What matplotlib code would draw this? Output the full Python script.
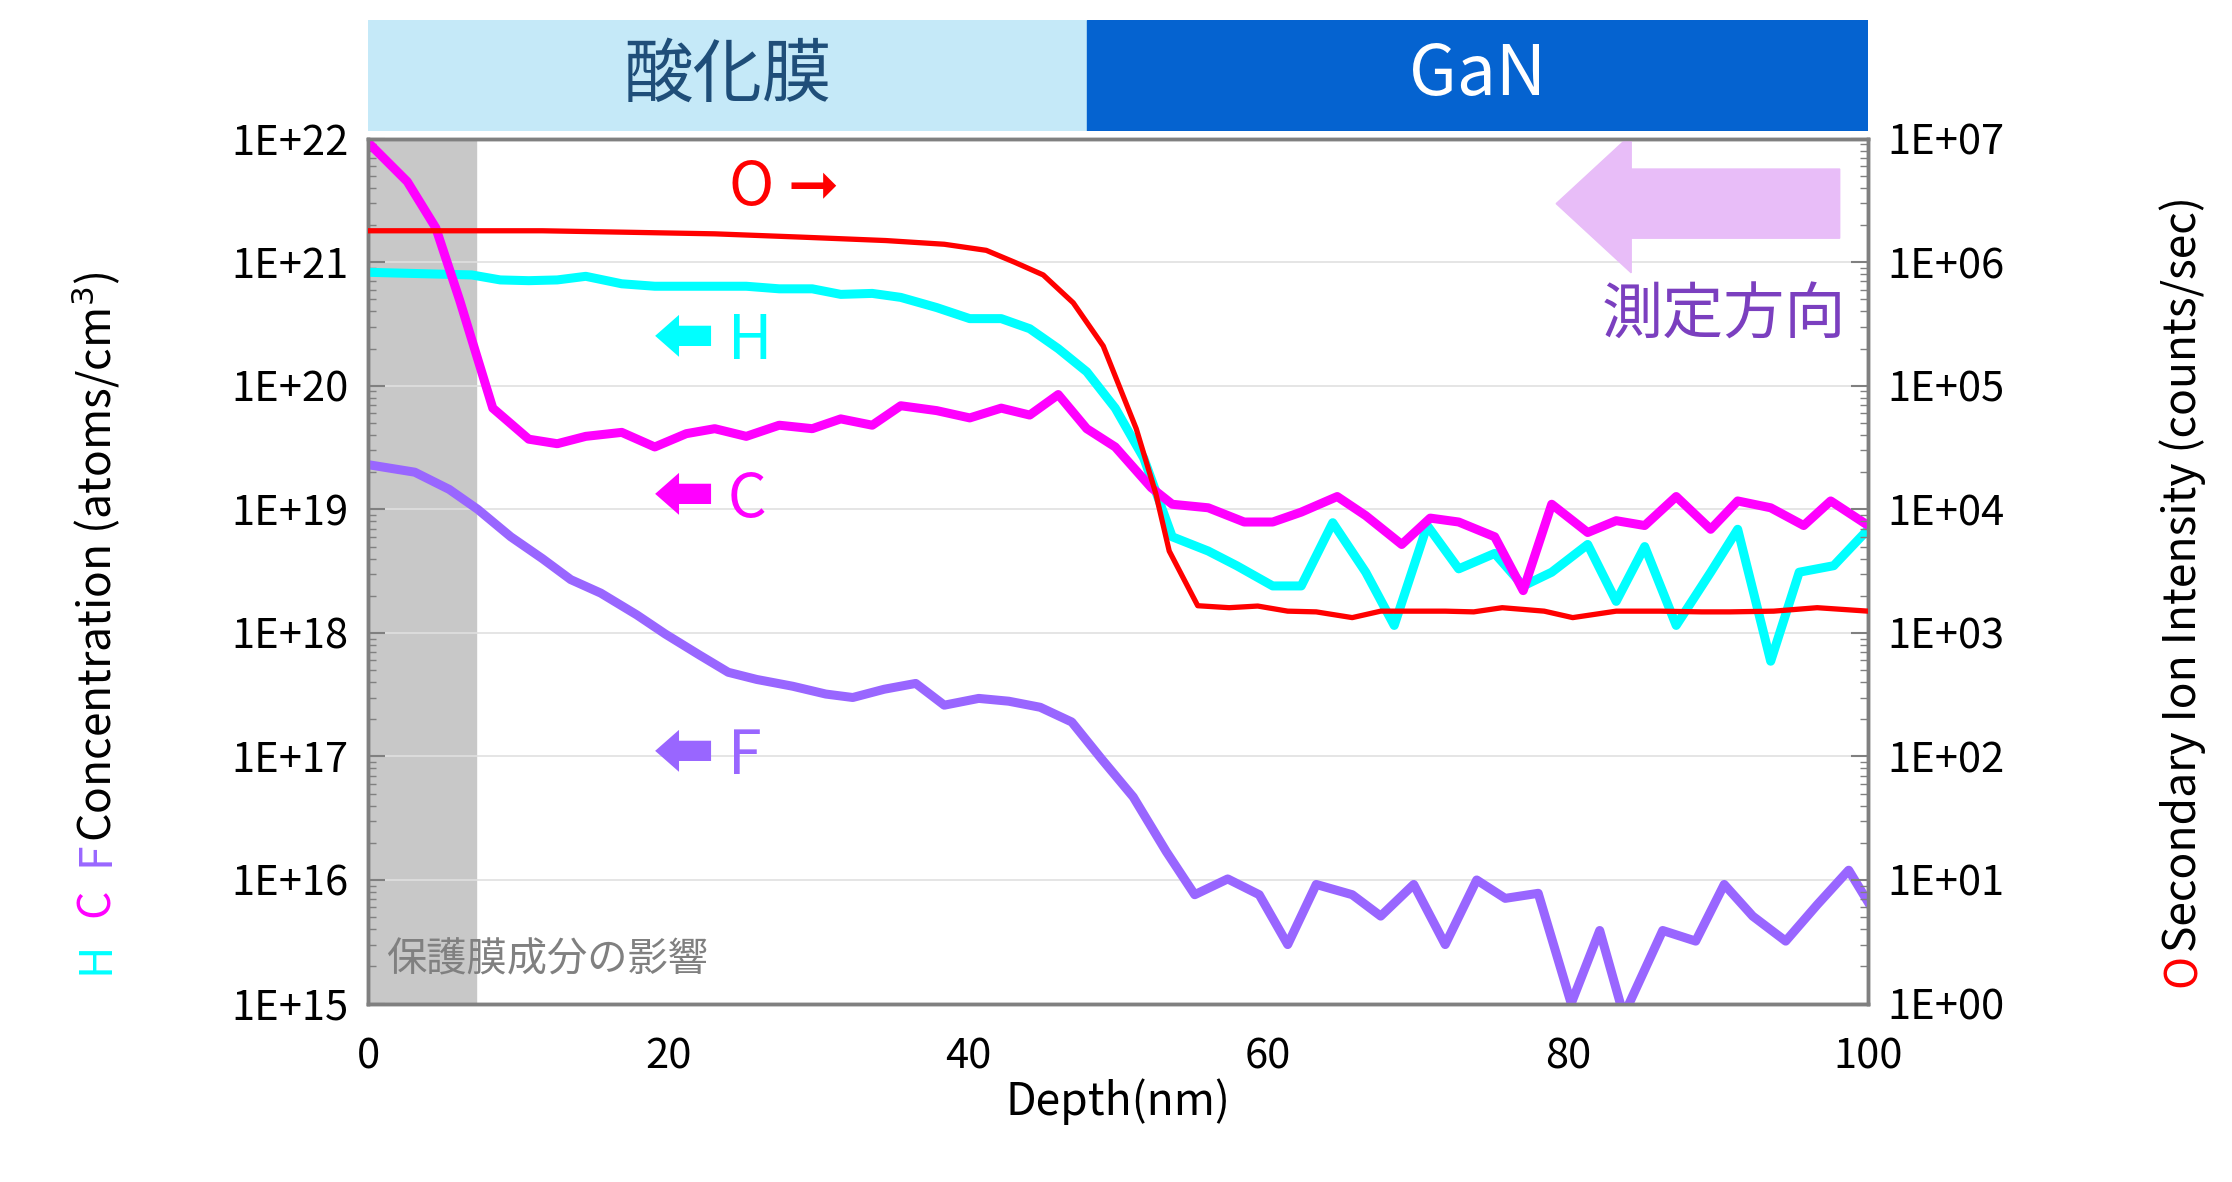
import math
import matplotlib
matplotlib.use("Agg")
import matplotlib.pyplot as plt
from matplotlib.patches import Polygon, Rectangle
from matplotlib.ticker import LogLocator, NullFormatter, FuncFormatter

plt.rcParams["font.family"] = ["Noto Sans CJK JP", "DejaVu Sans"]

c_depth = [0,2.6,4.5,6.1,8.3,10.7,12.6,14.5,16.9,19.1,21.2,23.1,25.2,27.4,29.6,31.5,33.6,35.5,37.9,40.1,
           42.2,44.1,46.0,47.9,49.8,52.2,53.6,56.0,58.4,60.3,62.2,64.6,66.5,68.9,70.8,72.7,75.1,77.0,78.9,81.3,
           83.2,85.1,87.2,89.5,91.3,93.5,95.7,97.5,100]
c_conc = [9.3e21,4.5e21,1.9e21,4.9e20,6.6e19,3.7e19,3.4e19,3.9e19,4.2e19,3.2e19,4.1e19,4.5e19,3.9e19,4.8e19,4.5e19,
          5.4e19,4.8e19,6.9e19,6.3e19,5.5e19,6.6e19,5.8e19,8.5e19,4.5e19,3.2e19,1.5e19,1.1e19,1.03e19,7.9e18,7.9e18,
          9.5e18,1.27e19,8.9e18,5.2e18,8.5e18,7.9e18,6.0e18,2.2e18,1.1e19,6.5e18,8.1e18,7.4e18,1.27e19,6.9e18,1.17e19,
          1.03e19,7.4e18,1.17e19,7.4e18]
h_depth = [0,6.9,8.8,10.7,12.6,14.5,16.9,19.1,21.2,23.1,25.2,27.4,29.6,31.5,33.6,35.5,37.9,40.1,42.2,44.1,46.0,
           47.9,49.8,51.7,53.6,56.0,57.9,60.3,62.2,64.3,66.5,68.4,70.6,72.7,75.1,77.0,78.9,81.3,83.2,85.1,87.2,89.5,
           91.3,93.5,95.4,97.7,100]
h_conc = [8.3e20,7.9e20,7.2e20,7.1e20,7.2e20,7.7e20,6.7e20,6.4e20,6.4e20,6.4e20,6.4e20,6.1e20,6.1e20,5.5e20,5.6e20,
          5.2e20,4.3e20,3.5e20,3.5e20,2.9e20,2.0e20,1.3e20,6.6e19,2.6e19,6.0e18,4.6e18,3.5e18,2.4e18,2.4e18,7.8e18,
          3.1e18,1.15e18,7.4e18,3.3e18,4.4e18,2.4e18,3.1e18,5.2e18,1.8e18,5.0e18,1.15e18,3.1e18,6.9e18,5.9e17,3.1e18,
          3.5e18,6.9e18]
f_depth = [0,3.1,5.4,7.3,9.5,11.6,13.5,15.5,17.9,19.8,22.1,24.0,25.9,28.3,30.5,32.3,34.4,36.5,38.4,40.7,42.7,44.8,
           46.9,48.9,51.0,53.2,55.1,57.3,59.4,61.3,63.2,65.6,67.5,69.7,71.8,73.9,75.8,78.0,80.2,82.1,83.7,86.3,88.5,
           90.4,92.3,94.5,96.6,98.7,100]
f_conc = [2.3e19,2.0e19,1.45e19,1.0e19,6.0e18,4.0e18,2.7e18,2.1e18,1.4e18,9.8e17,6.6e17,4.8e17,4.2e17,3.7e17,3.2e17,
          3.0e17,3.5e17,3.9e17,2.6e17,2.95e17,2.8e17,2.5e17,1.9e17,9.5e16,4.7e16,1.7e16,7.6e15,1.02e16,7.6e15,3.0e15,
          9.2e15,7.6e15,5.1e15,9.2e15,3.0e15,1.0e16,7.1e15,7.8e15,1.0e15,3.9e15,8e14,3.9e15,3.2e15,9.2e15,5.1e15,
          3.2e15,6.3e15,1.2e16,6.6e15]
o_depth = [0,11.6,17.4,23.1,28.8,34.5,38.4,41.2,43.1,45.0,47.0,49.0,51.2,52.5,53.4,55.3,57.4,59.3,61.3,63.2,65.6,
           67.5,69.8,71.8,73.7,75.6,78.4,80.3,83.2,86.1,88.9,90.8,93.7,96.6,100]
o_counts = [1.8e6,1.8e6,1.75e6,1.7e6,1.6e6,1.5e6,1.4e6,1.25e6,1.0e6,7.9e5,4.7e5,2.1e5,4.5e4,1.35e4,4.6e3,1.66e3,
            1.6e3,1.65e3,1.5e3,1.48e3,1.33e3,1.5e3,1.5e3,1.5e3,1.48e3,1.6e3,1.5e3,1.33e3,1.5e3,1.5e3,1.48e3,1.48e3,
            1.5e3,1.6e3,1.5e3]
oxide_end = 47.9
protect_end = 7.2

C_COL, H_COL, F_COL, O_COL = "#ff00ff", "#00ffff", "#9966ff", "#ff0000"

fig = plt.figure(figsize=(22.32, 11.82), dpi=100)
L, R, B, T = 0.165, 0.837, 0.151, 0.8826
ax = fig.add_axes([L, B, R - L, T - B])
ax.set_yscale("log")
ax.set_xlim(0, 100)
ax.set_ylim(1e15, 1e22)
ax.axvspan(0, protect_end, color="#c8c8c8", zorder=0)
ax.grid(axis="y", which="major", color="#e0e0e0", lw=1.2, zorder=0)

ax2 = ax.twinx()
ax2.set_yscale("log")
ax2.set_ylim(1e0, 1e7)

ax.plot(f_depth, f_conc, color=F_COL, lw=6.5, solid_joinstyle="round", zorder=3)
ax.plot(h_depth, h_conc, color=H_COL, lw=6.5, solid_joinstyle="round", zorder=3)
ax.plot(c_depth, c_conc, color=C_COL, lw=6.5, solid_joinstyle="round", zorder=4)
ax2.plot(o_depth, o_counts, color=O_COL, lw=3.8, zorder=5)

fmt = FuncFormatter(lambda v, p: "1E+%02d" % round(math.log10(v)))
for a in (ax, ax2):
    a.yaxis.set_major_locator(LogLocator(base=10, numticks=20))
    a.yaxis.set_minor_locator(LogLocator(base=10, subs=range(2, 10), numticks=100))
    a.yaxis.set_minor_formatter(NullFormatter())
    a.yaxis.set_major_formatter(fmt)
    a.tick_params(axis="y", which="major", direction="in", length=12, width=1.5, labelsize=30, color="#808080", pad=14)
    a.tick_params(axis="y", which="minor", direction="in", length=6, width=1, color="#808080")
    for s in a.spines.values():
        s.set_color("#808080"); s.set_linewidth(2.5)
ax.set_xticks([0, 20, 40, 60, 80, 100])
ax.tick_params(axis="x", length=0, labelsize=30, pad=24)
ax.set_xlabel("Depth(nm)", fontsize=32, labelpad=0)

# banner
bax = fig.add_axes([L, 0.889, R - L, 0.094])
bax.set_xlim(0, 100); bax.set_ylim(0, 1); bax.axis("off")
bax.add_patch(Rectangle((0, 0), oxide_end, 1, color="#c5e9f8"))
bax.add_patch(Rectangle((oxide_end, 0), 100 - oxide_end, 1, color="#0563d0"))
bax.text(oxide_end / 2, 0.5, "酸化膜", ha="center", va="center", fontsize=50, color="#1f4e79")
bax.text((oxide_end + 100) / 2, 0.5, "GaN", ha="center", va="center", fontsize=50, color="white")

# direction arrow
arrow = Polygon([(0.981, 0.885), (0.842, 0.885), (0.842, 0.845), (0.792, 0.925),
                 (0.842, 1.005), (0.842, 0.965), (0.981, 0.965)], closed=True,
                transform=ax.transAxes, color="#e8bdf8", zorder=6)
ax.add_patch(arrow)
ax.text(0.985, 0.795, "測定方向", transform=ax.transAxes, ha="right", va="center", fontsize=44, color="#7b3fbf", zorder=7)

# labels
ax.text(0.277, 0.943, "O ➞", transform=ax.transAxes, ha="center", va="center", fontsize=44, color=O_COL)
ax.text(0.19, 0.765, "⬅ H", transform=ax.transAxes, ha="left", va="center", fontsize=44, color=H_COL)
ax.text(0.19, 0.583, "⬅ C", transform=ax.transAxes, ha="left", va="center", fontsize=44, color=C_COL)
ax.text(0.19, 0.285, "⬅ F", transform=ax.transAxes, ha="left", va="center", fontsize=44, color=F_COL)
ax.text(0.012, 0.05, "保護膜成分の影響", transform=ax.transAxes, ha="left", va="center", fontsize=29, color="#808080", zorder=7)

# axis titles
for txt, y, col in [("H", 0.176, H_COL), ("C", 0.224, C_COL), ("F", 0.267, F_COL)]:
    fig.text(0.043, y, txt, rotation=90, ha="center", va="bottom", fontsize=32, color=col)
fig.text(0.043, 0.288, "Concentration (atoms/cm$^3$)", rotation=90, ha="center", va="bottom", fontsize=32, color="black")
fig.text(0.978, 0.165, "O", rotation=90, ha="center", va="bottom", fontsize=32, color=O_COL)
fig.text(0.978, 0.195, "Secondary Ion Intensity (counts/sec)", rotation=90, ha="center", va="bottom", fontsize=32, color="black")

fig.savefig("out.png", dpi=100)
